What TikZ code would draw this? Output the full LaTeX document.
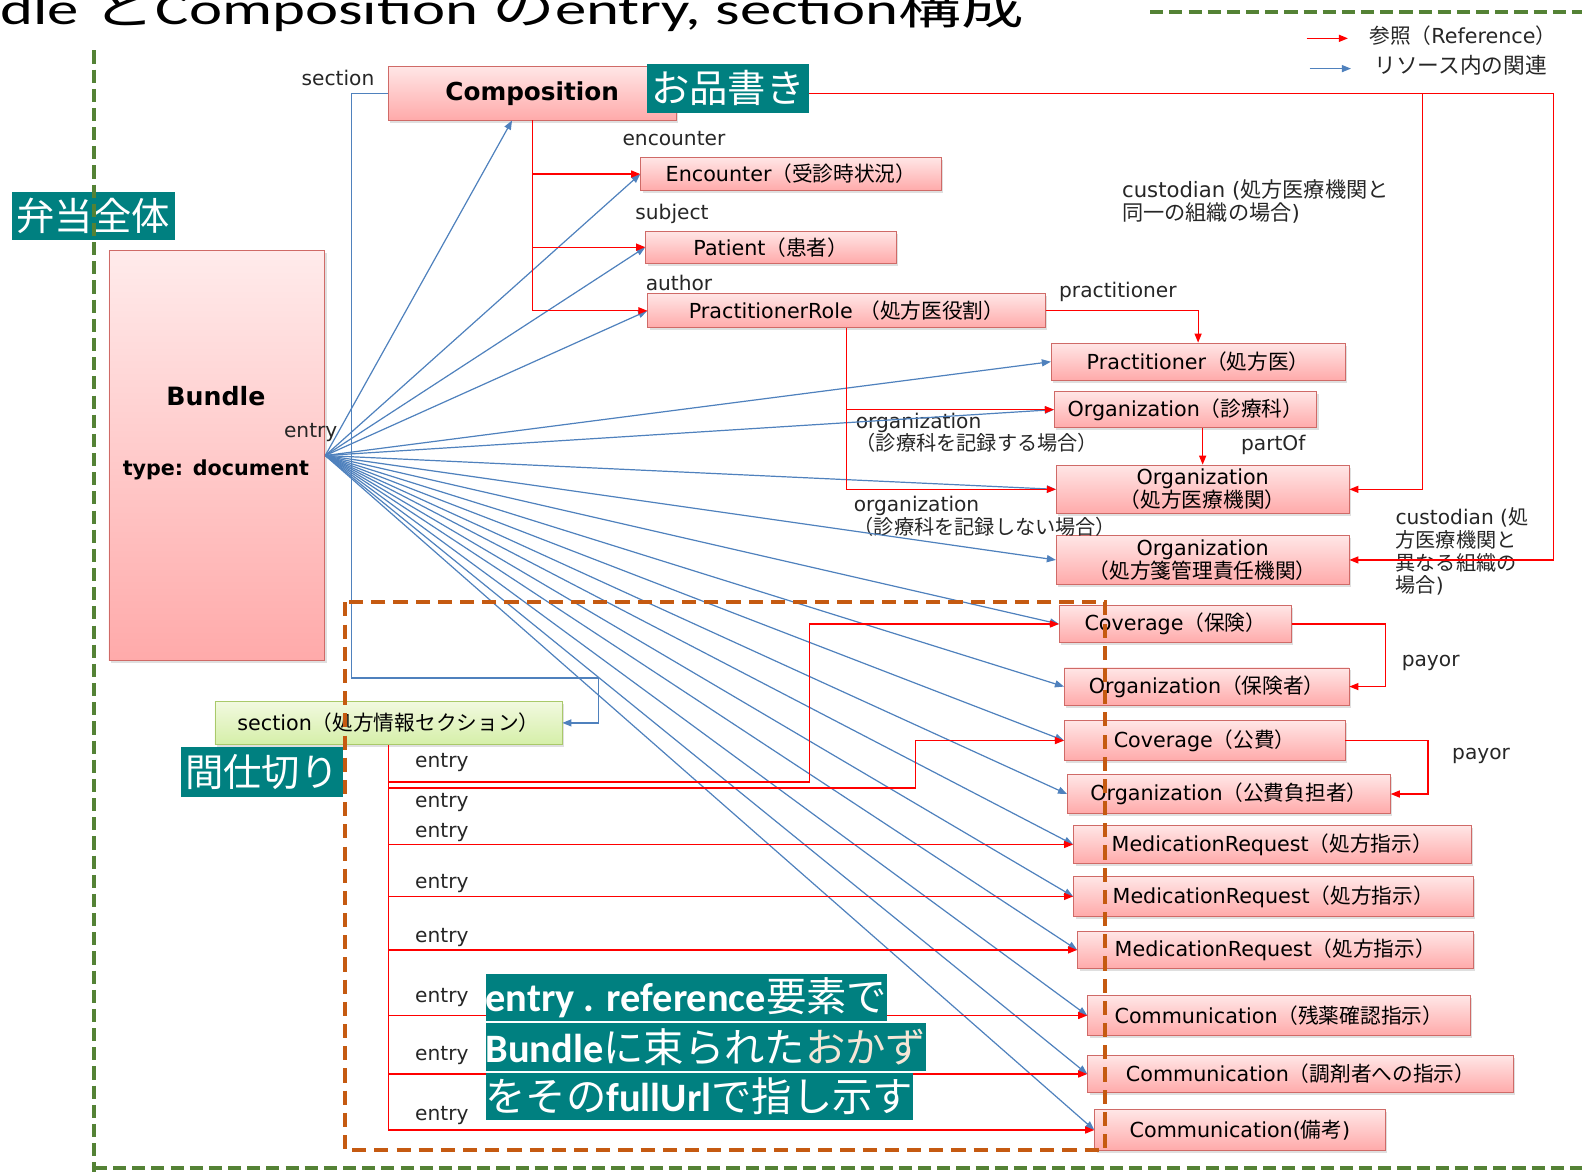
\documentclass[tikz,border=0pt]{standalone}
\usepackage{fontspec}
\usepackage{graphicx}
\setmainfont{DejaVu Sans}
\newfontfamily\jf{Noto Sans CJK JP}
\newfontfamily\cf{Carlito}
\usetikzlibrary{arrows.meta,shadows,calc}
\newcommand\J[1]{{\jf #1}}
\definecolor{tealc}{HTML}{008080}
\definecolor{pinktop}{HTML}{FFE6E6}
\definecolor{pinkbot}{HTML}{FFAAAA}
\definecolor{boxborder}{HTML}{CF6A67}
\definecolor{greentop}{HTML}{F2F9E0}
\definecolor{greenbot}{HTML}{D5EFA8}
\definecolor{greenborder}{HTML}{A9C96A}
\definecolor{bluec}{HTML}{4F81BD}
\definecolor{labelc}{HTML}{262626}
\definecolor{greenc}{HTML}{548235}
\definecolor{orangec}{HTML}{C55A11}
\definecolor{beigec}{HTML}{F5E6D6}
\begin{document}
\begin{tikzpicture}[x=1pt,y=-1pt,
  box/.style={draw=boxborder, line width=0.8pt, top color=pinktop, bottom color=pinkbot,
    inner sep=0pt, align=center, text=black, font=\fontsize{20.5}{23}\selectfont,
    drop shadow={shadow xshift=2pt, shadow yshift=-2.5pt, opacity=0.25}},
  lbl/.style={font=\fontsize{20}{22.5}\selectfont, text=labelc, inner sep=0pt},
  ref/.style={draw=red, line width=1.2pt, -{Triangle[length=9pt,width=7pt]}},
  blu/.style={draw=bluec, line width=1.2pt, -{Triangle[length=9pt,width=7pt]}},
  tealbox/.style={fill=tealc, text=white, inner sep=0pt, font=\jf\fontsize{38}{40}\selectfont},
  gdash/.style={draw=greenc, line width=4pt, dash pattern=on 13pt off 6pt},
  odash/.style={draw=orangec, line width=4pt, dash pattern=on 14pt off 8pt}]
\useasboundingbox (0,0) rectangle (1568,1161);

% title
\node[anchor=base west, inner sep=0pt, text=black] (title) at (0,24)
  {\resizebox{1015pt}{\height}{\cf\fontsize{44}{48}\selectfont dle \J{と}Composition \J{の}entry, section\J{構成}}};

% legend
\node[lbl, anchor=west, font=\fontsize{20.5}{23}\selectfont] (leg1) at (1357,35) {\J{参照（}Reference\J{）}};
\node[lbl, anchor=west, font=\fontsize{21.5}{23}\selectfont] (leg2) at (1362,65) {\J{リソース内の関連}};
\coordinate (lr1) at (1295,38); \coordinate (lr2) at (1336,38);
\coordinate (lb1) at (1298,68); \coordinate (lb2) at (1339,68);

% boxes
\node[box, minimum width=214pt, minimum height=407pt, top color=pinktop!80!white] (bundle) at (215,451.5) {};
\node[font=\bfseries\fontsize{25}{28}\selectfont, inner sep=0pt] (bt1) at (214,393) {Bundle};
\node[font=\bfseries\fontsize{20.5}{24}\selectfont, inner sep=0pt] (bt2) at (214,466) {type: document};

\node[box, minimum width=285pt, minimum height=53pt, font=\bfseries\fontsize{24.5}{28}\selectfont] (comp) at (527.5,92.5) {Composition};
\node[box, minimum width=298pt, minimum height=33pt] (enc) at (784,172.5) {Encounter\J{（受診時状況）}};
\node[box, minimum width=248pt, minimum height=32pt] (pat) at (764,245) {Patient\J{（患者）}};
\node[box, minimum width=394pt, minimum height=34pt] (prole) at (839,308) {PractitionerRole \J{（処方医役割）}};
\node[box, minimum width=291pt, minimum height=37pt] (prac) at (1187.5,358.5) {Practitioner\J{（処方医）}};
\node[box, minimum width=260pt, minimum height=36pt] (orgdept) at (1175,406) {Organization\J{（診療科）}};
\node[box, minimum width=290pt, minimum height=48pt] (orghosp) at (1192,485) {Organization\\\J{（処方医療機関）}};
\node[box, minimum width=290pt, minimum height=48pt] (orgcust) at (1192,555) {Organization\\\J{（処方箋管理責任機関）}};
\node[box, minimum width=230pt, minimum height=37pt] (cov1) at (1165,618.5) {Coverage\J{（保険）}};
\node[box, minimum width=282pt, minimum height=37pt] (ins1) at (1196,680.5) {Organization\J{（保険者）}};
\node[box, minimum width=278pt, minimum height=40pt] (cov2) at (1194,734) {Coverage\J{（公費）}};
\node[box, minimum width=320pt, minimum height=38pt] (ins2) at (1218,787) {Organization\J{（公費負担者）}};
\node[box, minimum width=394pt, minimum height=38pt] (mr1) at (1261,837) {MedicationRequest\J{（処方指示）}};
\node[box, minimum width=396pt, minimum height=39pt] (mr2) at (1262,888.5) {MedicationRequest\J{（処方指示）}};
\node[box, minimum width=392pt, minimum height=37pt] (mr3) at (1264,941.5) {MedicationRequest\J{（処方指示）}};
\node[box, minimum width=379pt, minimum height=39pt] (cm1) at (1267.5,1006.5) {Communication\J{（残薬確認指示）}};
\node[box, minimum width=422pt, minimum height=37pt] (cm2) at (1289,1064.5) {Communication\J{（調剤者への指示）}};
\node[box, minimum width=288pt, minimum height=40pt] (cm3) at (1229,1120) {Communication(\J{備考})};
\node[box, top color=greentop, bottom color=greenbot, draw=greenborder, minimum width=344pt, minimum height=43pt] (sec) at (385,716.5) {section\J{（処方情報セクション）}};

% labels
\node[lbl] (lsec) at (335,77) {section};
\node[lbl] (lentry) at (308,429) {entry};
\node[lbl] (lenc) at (668,137) {encounter};
\node[lbl] (lsub) at (666,212) {subject};
\node[lbl] (laut) at (673,280) {author};
\node[lbl] (lprac) at (1108,289) {practitioner};
\node[lbl, anchor=north west, align=left, font=\fontsize{21}{23}\selectfont] (lcus1) at (1112,178) {custodian (\J{処方医療機関と}\\\J{同一の組織の場合})};
\node[lbl, anchor=north west, align=left] (lorg1) at (848,409) {organization\\\J{（診療科を記録する場合）}};
\node[lbl] (lpart) at (1262,441) {partOf};
\node[lbl, anchor=north west, align=left] (lorg2) at (846,492) {organization\\\J{（診療科を記録しない場合）}};
\node[lbl, anchor=north west, align=left] (lcus2) at (1383,503) {custodian (\J{処}\\\J{方医療機関と}\\\J{異なる組織の}\\\J{場合})};
\node[lbl] (lpay1) at (1418,657) {payor};
\node[lbl] (lpay2) at (1468,749) {payor};
\node[lbl] (e1) at (438,756) {entry};
\node[lbl] (e2) at (438,795) {entry};
\node[lbl] (e3) at (438,825) {entry};
\node[lbl] (e4) at (438,876) {entry};
\node[lbl] (e5) at (438,929) {entry};
\node[lbl] (e6) at (438,989) {entry};
\node[lbl] (e7) at (438,1046) {entry};
\node[lbl] (e8) at (438,1106) {entry};

% legend arrows
\draw[ref] (lr1) -- (lr2);
\draw[blu] (lb1) -- (lb2);

% blue fan
\draw[blu] (bundle.east) -- ([xshift=-20pt]comp.south);
\foreach \t in {enc,pat,prole,prac,orgdept,orghosp,orgcust,cov1,ins1,cov2,ins2,mr1,mr2,mr3,cm1,cm2,cm3}
  \draw[blu] (bundle.east) -- (\t.west);
\draw[blu] (comp.west) -- (348,92.5) -- (348,672) -- (593,672) |- (sec.east);

% red references
\draw[ref] (comp.south) |- (prole.west);
\draw[ref] (comp.south |- enc.west) -- (enc.west);
\draw[ref] (comp.south |- pat.west) -- (pat.west);
\coordinate (c1) at (1410,92.5);
\coordinate (c2) at (1540,92.5);
\draw[ref] (comp.east) -- (c2) |- (orgcust.east);
\draw[ref] (c1) |- (orghosp.east);
\draw[ref] (prole.east) -| (prac.north);
\draw[ref] (prole.south) |- (orghosp.west);
\draw[ref] (prole.south |- orgdept.west) -- (orgdept.west);
\draw[ref] (orghosp.north |- orgdept.south) -- (orghosp.north);
\draw[ref] (cov1.east) -- ++(93,0) |- (ins1.east);
\draw[ref] (cov2.east) -- ++(82,0) |- (ins2.east);

\draw[ref] (sec.south) |- (cm3.west);
\coordinate (s1) at (385,775);
\coordinate (s2) at (385,781);
\draw[ref] (s1) -- (802,775) |- (cov1.west);
\draw[ref] (s2) -- (907,781) |- (cov2.west);
\foreach \t in {mr1,mr2,mr3,cm1,cm2}
  \draw[ref] (sec.south |- \t.west) -- (\t.west);

% teal labels
\node[tealbox, minimum width=161pt, minimum height=49pt] (okaki) at (721.5,87.5) {お品書き};
\node[tealbox, minimum width=161pt, minimum height=48pt] (bento) at (92.5,214) {弁当全体};
\node[tealbox, minimum width=161pt, minimum height=50pt] (maji) at (259.5,765) {間仕切り};
\node[tealbox, anchor=west, minimum height=47pt, font=\fontsize{40}{42}\selectfont] (b1) at (481,988.5)
  {{\cf\bfseries entry . reference}\J{要素で}};
\node[tealbox, anchor=west, minimum height=48pt, font=\fontsize{40}{42}\selectfont] (b2) at (481,1038)
  {{\cf\bfseries Bundle}\J{に束られた}{\jf\color{beigec}おかず}};
\node[tealbox, anchor=west, minimum height=47pt, font=\fontsize{40}{42}\selectfont] (b3) at (481,1086.5)
  {\J{をその}{\cf\bfseries fullUrl}\J{で指し示す}};

% dashed frames
\coordinate (g1) at (93,50); \coordinate (g2) at (93,1175);
\coordinate (g3) at (93,1158); \coordinate (g4) at (1580,1158);
\coordinate (g5) at (1140,12); \coordinate (g6) at (1580,12);
\draw[gdash] (g1) -- (g2);
\draw[gdash] (g3) -- (g4);
\draw[gdash] (g5) -- (g6);
\coordinate (o1) at (342,597); \coordinate (o2) at (1095,1140);
\draw[odash] (o1) rectangle (o2);
\end{tikzpicture}
\end{document}
